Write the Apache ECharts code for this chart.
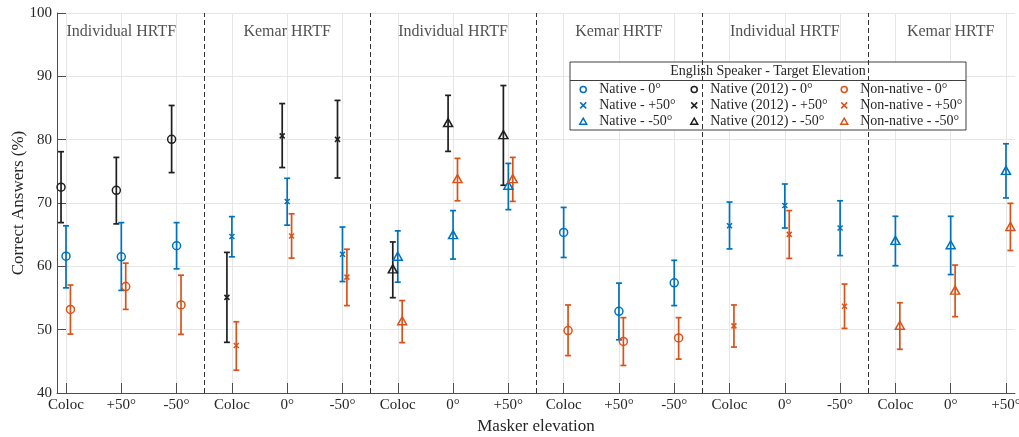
<!DOCTYPE html>
<html>
<head>
<meta charset="utf-8">
<script src="https://cdn.jsdelivr.net/npm/echarts@6/dist/echarts.min.js"></script>
<style>
html, body { margin: 0; padding: 0; background: #fff; }
#chart { width: 1019px; height: 437px; }
</style>
</head>
<body>
<div id="chart"></div>
<script>
// x categories (masker elevation per condition)
const xLabels = ['Coloc', '+50°', '-50°', 'Coloc', '0°', '-50°', 'Coloc', '0°', '+50°',
                 'Coloc', '+50°', '-50°', 'Coloc', '0°', '-50°', 'Coloc', '0°', '+50°'];
const xTicks = [1, 2, 3, 4, 5, 6, 7, 8, 9, 10, 11, 12, 13, 14, 15, 16, 17, 18];
const groupTitles = ['Individual HRTF', 'Kemar HRTF', 'Individual HRTF', 'Kemar HRTF', 'Individual HRTF', 'Kemar HRTF'];
const groupCenters = [2, 5, 8, 11, 14, 17];
const groupDividers = [3.5, 6.5, 9.5, 12.5, 15.5];

// positions of each target elevation
const pos0 = [1, 2, 3, 10, 11, 12];
const posUp = [4, 5, 6, 13, 14, 15];
const posDown = [7, 8, 9, 16, 17, 18];

// Native
const native0Mean = [61.6, 61.5, 63.25, 65.35, 52.9, 57.4];
const native0Lo   = [56.6, 56.2, 59.6, 61.4, 48.4, 53.8];
const native0Hi   = [66.4, 66.9, 66.9, 69.3, 57.35, 60.95];
const nativeUpMean = [64.7, 70.25, 61.9, 66.4, 69.6, 66.05];
const nativeUpLo   = [61.5, 66.5, 57.6, 62.75, 66.05, 61.7];
const nativeUpHi   = [67.85, 73.9, 66.2, 70.15, 73.0, 70.35];
const nativeDownMean = [61.6, 65.0, 72.8, 64.1, 63.4, 75.15];
const nativeDownLo   = [57.5, 61.15, 68.95, 60.1, 58.7, 70.8];
const nativeDownHi   = [65.6, 68.8, 76.25, 67.9, 67.9, 79.35];

// Native (2012), only first three groups
const old0Mean = [72.5, 72.0, 80.05];
const old0Lo   = [66.9, 66.7, 74.8];
const old0Hi   = [78.1, 77.2, 85.4];
const oldUpMean = [55.1, 80.6, 80.05];
const oldUpLo   = [48.0, 75.6, 73.95];
const oldUpHi   = [62.2, 85.7, 86.2];
const oldDownMean = [59.6, 82.7, 80.8];
const oldDownLo   = [55.05, 78.15, 72.8];
const oldDownHi   = [63.85, 87.0, 88.55];

// Non-native
const nn0Mean = [53.2, 56.8, 53.9, 49.85, 48.15, 48.7];
const nn0Lo   = [49.3, 53.2, 49.25, 45.9, 44.35, 45.35];
const nn0Hi   = [57.05, 60.5, 58.6, 53.9, 51.9, 51.9];
const nnUpMean = [47.5, 64.8, 58.3, 50.6, 65.05, 53.7];
const nnUpLo   = [43.6, 61.3, 53.8, 47.25, 61.25, 50.2];
const nnUpHi   = [51.25, 68.3, 62.7, 53.9, 68.8, 57.2];
const nnDownMean = [51.4, 73.85, 73.85, 50.7, 56.25, 66.3];
const nnDownLo   = [47.95, 70.35, 70.25, 46.9, 52.05, 62.5];
const nnDownHi   = [54.6, 77.05, 77.2, 54.25, 60.2, 69.95];

const FONT = 'Liberation Serif';
const TXT = '#262626';
const BLUE = '#0072BD', ORANGE = '#D95319', BLACK = '#1f1f1f';

const circlePath = 'path://M0,5A5,5,0,1,1,10,5A5,5,0,1,1,0,5Z';
const triPath = 'path://M5,0L10,8.66L0,8.66Z';
const xPath = 'path://M0,0L10,10M10,0L0,10';

const series = [];
const legendCols = [[], [], []];

function addSeries(col, name, color, icon, size, pos, mean, lo, hi, shift) {
    const xs = pos.map(p => p + shift);
    series.push({
        name: name + ' err',
        type: 'custom',
        silent: true,
        data: xs.map((x, i) => [x, lo[i], hi[i]]),
        encode: { x: 0, y: [1, 2] },
        renderItem: function (params, api) {
            const top = api.coord([api.value(0), api.value(2)]);
            const bot = api.coord([api.value(0), api.value(1)]);
            const w = 3;
            const st = { stroke: color, lineWidth: 1.7 };
            return {
                type: 'group',
                children: [
                    { type: 'line', shape: { x1: top[0], y1: top[1], x2: bot[0], y2: bot[1] }, style: st },
                    { type: 'line', shape: { x1: top[0] - w, y1: top[1], x2: top[0] + w, y2: top[1] }, style: st },
                    { type: 'line', shape: { x1: bot[0] - w, y1: bot[1], x2: bot[0] + w, y2: bot[1] }, style: st }
                ]
            };
        }
    });
    series.push({
        name: name,
        type: 'scatter',
        symbol: icon,
        symbolSize: size,
        data: xs.map((x, i) => [x, mean[i]]),
        itemStyle: { color: 'rgba(0,0,0,0)', borderColor: color, borderWidth: 1.5, opacity: 1 }
    });
    legendCols[col].push({ name: name, icon: icon });
}

// group titles + dividers
series.push({
    name: 'titles',
    type: 'scatter',
    symbolSize: 0,
    silent: true,
    data: groupCenters.map((c, i) => [c, 97.1, groupTitles[i]]),
    label: {
        show: true,
        position: 'inside',
        formatter: p => p.data[2],
        fontFamily: FONT,
        fontSize: 16,
        color: TXT
    },
    markLine: {
        silent: true,
        symbol: ['none', 'none'],
        label: { show: false },
        lineStyle: { color: '#333', width: 1, type: [5, 3] },
        data: groupDividers.map(v => ({ xAxis: v }))
    }
});

addSeries(1, 'Native (2012) - 0°', BLACK, circlePath, 8, [1, 2, 3], old0Mean, old0Lo, old0Hi, -0.09);
addSeries(1, 'Native (2012) - +50°', BLACK, xPath, 5, [4, 5, 6], oldUpMean, oldUpLo, oldUpHi, -0.09);
addSeries(1, 'Native (2012) - -50°', BLACK, triPath, [9, 8], [7, 8, 9], oldDownMean, oldDownLo, oldDownHi, -0.09);
addSeries(0, 'Native - 0°', BLUE, circlePath, 8, pos0, native0Mean, native0Lo, native0Hi, 0);
addSeries(0, 'Native - +50°', BLUE, xPath, 5, posUp, nativeUpMean, nativeUpLo, nativeUpHi, 0);
addSeries(0, 'Native - -50°', BLUE, triPath, [9, 8], posDown, nativeDownMean, nativeDownLo, nativeDownHi, 0);
addSeries(2, 'Non-native - 0°', ORANGE, circlePath, 8, pos0, nn0Mean, nn0Lo, nn0Hi, 0.08);
addSeries(2, 'Non-native - +50°', ORANGE, xPath, 5, posUp, nnUpMean, nnUpLo, nnUpHi, 0.08);
addSeries(2, 'Non-native - -50°', ORANGE, triPath, [9, 8], posDown, nnDownMean, nnDownLo, nnDownHi, 0.08);

const legendLefts = [579, 690, 840];
const legends = legendCols.map((items, i) => ({
    orient: 'vertical',
    left: legendLefts[i],
    top: 82.6,
    z: 10,
    padding: 0,
    itemWidth: 22,
    itemHeight: 6,
    itemGap: 1.8,
    selectedMode: false,
    itemStyle: { borderWidth: 1.5 },
    textStyle: { fontFamily: FONT, fontSize: 14, color: TXT, lineHeight: 14 },
    data: items
}));

const chart = echarts.init(document.getElementById('chart'));
chart.setOption({
    animation: false,
    backgroundColor: '#fff',
    grid: { left: 57, right: 4, top: 13, bottom: 44, containLabel: false, outerBoundsMode: 'none' },
    legend: legends,
    graphic: [
        { type: 'rect', z: 5, shape: { x: 570, y: 62, width: 396, height: 68 }, style: { fill: '#fff', stroke: '#404040', lineWidth: 1 } },
        { type: 'line', z: 6, shape: { x1: 570, y1: 80.5, x2: 966, y2: 80.5 }, style: { stroke: '#404040', lineWidth: 1 } },
        { type: 'text', z: 6, x: 768, y: 71, style: { text: 'English Speaker - Target Elevation', font: '14px "Liberation Serif"', fill: TXT, align: 'center', verticalAlign: 'middle' } }
    ],
    xAxis: {
        type: 'value',
        min: 0.837,
        max: 18.163,
        name: 'Masker elevation',
        nameLocation: 'middle',
        nameGap: 22,
        nameTextStyle: { fontFamily: FONT, fontSize: 17, color: TXT },
        axisLine: { show: true, lineStyle: { color: '#4d4d4d', width: 1 } },
        axisTick: { show: true, inside: true, length: 10, customValues: xTicks, lineStyle: { color: '#4d4d4d' } },
        axisLabel: {
            customValues: xTicks,
            margin: 5,
            fontFamily: FONT,
            fontSize: 15,
            color: TXT,
            formatter: v => xLabels[Math.round(v) - 1]
        },
        splitLine: { show: true, lineStyle: { color: '#e6e6e6', width: 1 } }
    },
    yAxis: {
        type: 'value',
        min: 40,
        max: 100,
        interval: 10,
        name: 'Correct Answers (%)',
        nameLocation: 'middle',
        nameGap: 30,
        nameMoveOverlap: false,
        nameTextStyle: { fontFamily: FONT, fontSize: 17, color: TXT },
        axisLine: { show: true, lineStyle: { color: '#4d4d4d', width: 1 } },
        axisTick: { show: true, inside: true, length: 9, lineStyle: { color: '#4d4d4d' } },
        axisLabel: { margin: 5, fontFamily: FONT, fontSize: 15, color: TXT },
        splitLine: { show: true, lineStyle: { color: '#e6e6e6', width: 1 } }
    },
    series: series
});
</script>
</body>
</html>
